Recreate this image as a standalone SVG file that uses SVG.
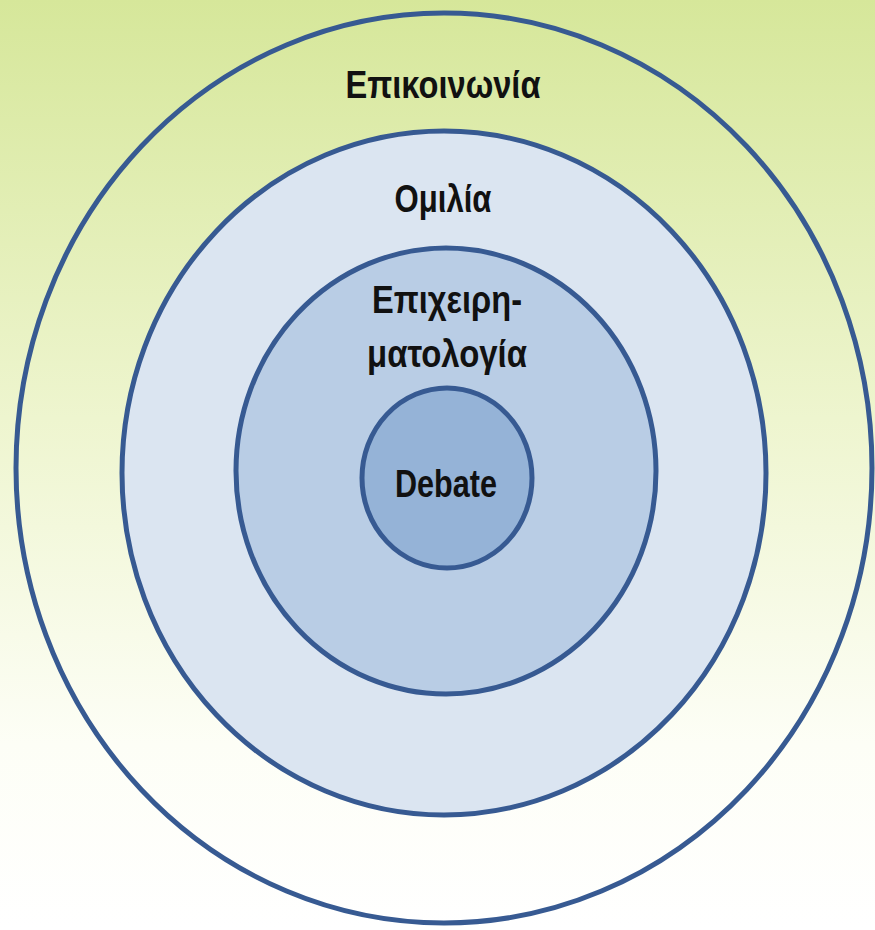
<svg xmlns="http://www.w3.org/2000/svg" width="875" height="930" viewBox="0 0 875 930">
<defs>
<linearGradient id="bg" x1="0" y1="0" x2="0" y2="1">
<stop offset="0" stop-color="#d6e79a"/>
<stop offset="0.45" stop-color="#eef5cf"/>
<stop offset="0.8" stop-color="#fdfef6"/>
<stop offset="1" stop-color="#ffffff"/>
</linearGradient>
<style>
.ring{stroke:#375a92;stroke-width:5}
.lbl{font-family:"Liberation Sans Narrow","Liberation Sans",Arial,sans-serif;font-weight:bold;font-size:39px;fill:#111111;text-anchor:middle}
</style>
</defs>
<rect x="0" y="0" width="875" height="930" fill="url(#bg)"/>
<g id="node-epikoinonia">
<ellipse class="ring" cx="444" cy="468" rx="428" ry="455" fill="none"/>
<text class="lbl" x="443" y="98" textLength="195" lengthAdjust="spacingAndGlyphs">Επικοινωνία</text>
</g>
<g id="node-omilia">
<ellipse class="ring" cx="444" cy="473" rx="322" ry="342" fill="#dbe5f1"/>
<text class="lbl" x="443" y="212" textLength="97" lengthAdjust="spacingAndGlyphs">Ομιλία</text>
</g>
<g id="node-epixeirimatologia">
<ellipse class="ring" cx="446" cy="471" rx="210" ry="223" fill="#b9cde5"/>
<text class="lbl" x="447" y="313" textLength="150" lengthAdjust="spacingAndGlyphs">Επιχειρη-</text>
<text class="lbl" x="447" y="367" textLength="160" lengthAdjust="spacingAndGlyphs">ματολογία</text>
</g>
<g id="node-debate">
<ellipse class="ring" cx="447" cy="478" rx="85" ry="90" fill="#95b3d7"/>
<text class="lbl" x="446" y="497" textLength="102" lengthAdjust="spacingAndGlyphs">Debate</text>
</g>
<g id="connectors"/>
</svg>
